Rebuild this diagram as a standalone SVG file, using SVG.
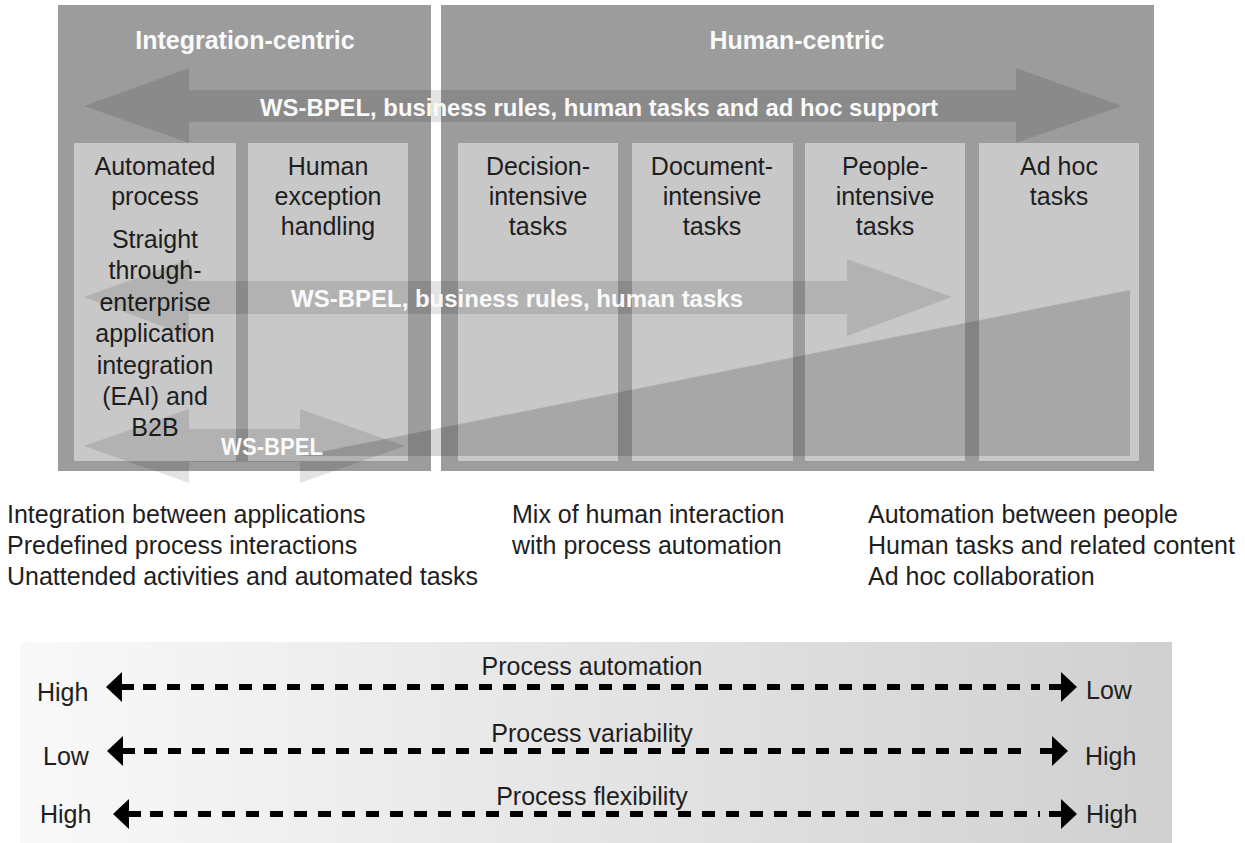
<svg xmlns="http://www.w3.org/2000/svg" width="1245" height="843" viewBox="0 0 1245 843">
<defs>
<linearGradient id="bg" x1="0" y1="0" x2="1" y2="0">
<stop offset="0" stop-color="#f9f9f9"/>
<stop offset="1" stop-color="#d0d0d0"/>
</linearGradient>
<style>
.panel{fill:#9c9c9c}
.box{fill:#c8c8c8}
.big{fill:#000;fill-opacity:0.11}
.wedge{fill:#000;fill-opacity:0.16}
.t{font-family:"Liberation Sans",Arial,sans-serif;font-size:25px;fill:#1e1e1e}
.tm{text-anchor:middle}
.w{font-family:"Liberation Sans",Arial,sans-serif;font-weight:bold;fill:#fafafa}
.dash{stroke:#000;stroke-width:6;stroke-dasharray:13 11;fill:none}
.head{fill:#000}
</style>
</defs>
<rect x="0" y="0" width="1245" height="843" fill="#fff"/>

<g id="panel-integration">
<rect class="panel" x="58" y="5" width="373" height="466"/>
<text class="w tm" x="245" y="49" font-size="25">Integration-centric</text>
</g>
<g id="panel-human">
<rect class="panel" x="441" y="5" width="713" height="466"/>
<text class="w tm" x="797" y="49" font-size="25">Human-centric</text>
</g>

<g id="box-automated">
<rect class="box" x="74" y="143" width="162" height="318"/>
<text class="t tm" x="155" y="175">Automated</text>
<text class="t tm" x="155" y="205">process</text>
<text class="t tm" x="155" y="248">Straight</text>
<text class="t tm" x="155" y="279">through-</text>
<text class="t tm" x="155" y="311">enterprise</text>
<text class="t tm" x="155" y="342">application</text>
<text class="t tm" x="155" y="374">integration</text>
<text class="t tm" x="155" y="405">(EAI) and</text>
<text class="t tm" x="155" y="436">B2B</text>
</g>
<g id="box-exception">
<rect class="box" x="248" y="143" width="160" height="318"/>
<text class="t tm" x="328" y="175">Human</text>
<text class="t tm" x="328" y="205">exception</text>
<text class="t tm" x="328" y="235">handling</text>
</g>
<g id="box-decision">
<rect class="box" x="458" y="143" width="160" height="318"/>
<text class="t tm" x="538" y="175">Decision-</text>
<text class="t tm" x="538" y="205">intensive</text>
<text class="t tm" x="538" y="235">tasks</text>
</g>
<g id="box-document">
<rect class="box" x="632" y="143" width="161" height="318"/>
<text class="t tm" x="712" y="175">Document-</text>
<text class="t tm" x="712" y="205">intensive</text>
<text class="t tm" x="712" y="235">tasks</text>
</g>
<g id="box-people">
<rect class="box" x="805" y="143" width="160" height="318"/>
<text class="t tm" x="885" y="175">People-</text>
<text class="t tm" x="885" y="205">intensive</text>
<text class="t tm" x="885" y="235">tasks</text>
</g>
<g id="box-adhoc">
<rect class="box" x="979" y="143" width="160" height="318"/>
<text class="t tm" x="1059" y="175">Ad hoc</text>
<text class="t tm" x="1059" y="205">tasks</text>
</g>

<g id="connectors">
<polygon class="wedge" points="300,456 1130,290 1130,456"/>
<polygon class="big" points="84,106 189,68 189,90 1016,90 1016,68 1122,106 1016,143 1016,122 189,122 189,143"/>
<polygon class="big" points="84,297 189,259 189,281 847,281 847,259 952,297 847,336 847,314 189,314 189,336"/>
<polygon class="big" points="84,446 189,409 189,429 300,429 300,409 405,446 300,483 300,462 189,462 189,483"/>
<text class="w" x="260" y="116" font-size="24" textLength="678" lengthAdjust="spacingAndGlyphs">WS-BPEL, business rules, human tasks and ad hoc support</text>
<text class="w" x="291" y="307" font-size="24" textLength="452" lengthAdjust="spacingAndGlyphs">WS-BPEL, business rules, human tasks</text>
<text class="w" x="221" y="455" font-size="24" textLength="102" lengthAdjust="spacingAndGlyphs">WS-BPEL</text>
</g>

<g id="summary-left">
<text class="t" x="7" y="523">Integration between applications</text>
<text class="t" x="7" y="554">Predefined process interactions</text>
<text class="t" x="7" y="585">Unattended activities and automated tasks</text>
</g>
<g id="summary-middle">
<text class="t" x="512" y="523">Mix of human interaction</text>
<text class="t" x="512" y="554">with process automation</text>
</g>
<g id="summary-right">
<text class="t" x="868" y="523">Automation between people</text>
<text class="t" x="868" y="554">Human tasks and related content</text>
<text class="t" x="868" y="585">Ad hoc collaboration</text>
</g>

<g id="scale">
<rect x="20" y="642" width="1152" height="201" fill="url(#bg)"/>
<text class="t tm" x="592" y="675">Process automation</text>
<text class="t tm" x="592" y="742">Process variability</text>
<text class="t tm" x="592" y="805">Process flexibility</text>
<text class="t" x="37" y="701">High</text>
<text class="t" x="1086" y="699">Low</text>
<text class="t" x="43" y="765">Low</text>
<text class="t" x="1085" y="765">High</text>
<text class="t" x="40" y="823">High</text>
<text class="t" x="1086" y="823">High</text>
</g>

<g id="scale-arrows">
<path class="head" d="M106 687 L122 672 L122 684 L134 684 L134 690 L122 690 L122 702 Z"/>
<line class="dash" x1="143" y1="687" x2="1040" y2="687"/>
<path class="head" d="M1077 687 L1061 672 L1061 684 L1049 684 L1049 690 L1061 690 L1061 702 Z"/>
<path class="head" d="M107 751 L123 736 L123 748 L135 748 L135 754 L123 754 L123 766 Z"/>
<line class="dash" x1="144" y1="751" x2="1032" y2="751"/>
<path class="head" d="M1068 751 L1052 736 L1052 748 L1040 748 L1040 754 L1052 754 L1052 766 Z"/>
<path class="head" d="M113 814 L129 799 L129 811 L141 811 L141 817 L129 817 L129 829 Z"/>
<line class="dash" x1="150" y1="814" x2="1040" y2="814"/>
<path class="head" d="M1077 814 L1061 799 L1061 811 L1049 811 L1049 817 L1061 817 L1061 829 Z"/>
</g>
</svg>
